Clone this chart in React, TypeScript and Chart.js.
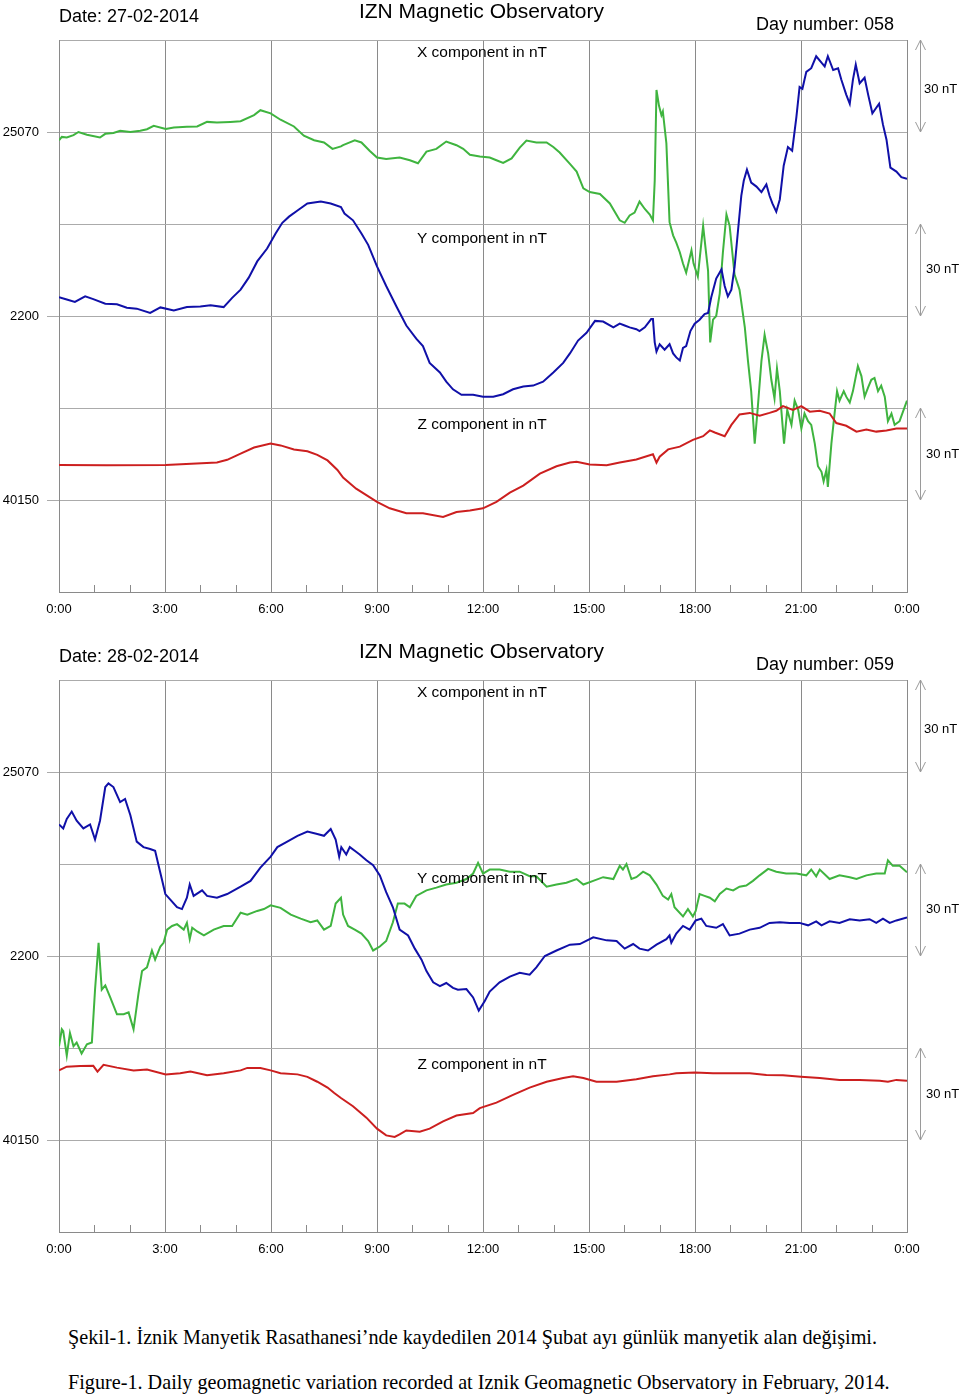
import React, { useEffect, useRef } from 'react';
import { Chart, registerables } from 'chart.js';

Chart.register(...registerables);

// ---------- axis anchors / tick labels ----------
const HOUR_TICKS = [0, 3, 6, 9, 12, 15, 18, 21, 24];
const X_BASE = 25070;
const Y_BASE = 2200;
const Z_BASE = 40150;
const BAND_NT = 30;
// grid steps (of 30 nT) below each labelled baseline; 6 steps tall in total
const X_STEPS_BELOW = 5;
const Y_STEPS_BELOW = 3;
const Z_STEPS_BELOW = 1;

// ---------- Day 058 (27-02-2014) ----------
const d058XTime = [0, 0.08, 0.22, 0.41, 0.55, 0.79, 1.16, 1.31, 1.54, 1.73, 2.02, 2.3, 2.49, 2.68, 3.02, 3.25, 3.62, 3.91, 4.19, 4.47, 4.85, 5.14, 5.52, 5.7, 5.99, 6.27, 6.65, 6.93, 7.22, 7.5, 7.74, 7.98,
  8.04, 8.23, 8.37, 8.56, 8.79, 9.0, 9.26, 9.64, 9.93, 10.16, 10.4, 10.68, 10.96, 11.25, 11.44, 11.63, 11.91, 12.19, 12.38, 12.57, 12.81, 13.04, 13.23, 13.51, 13.8, 13.99, 14.17, 14.46, 14.65, 14.84, 15.02, 15.31, 15.59,
  15.87, 16.01, 16.15, 16.29, 16.43, 16.58, 16.72, 16.81, 16.86, 16.91, 16.98, 17.05, 17.09, 17.19, 17.28, 17.38, 17.47, 17.57, 17.66, 17.75, 17.9, 17.96, 18.08, 18.23, 18.3, 18.37, 18.43, 18.51, 18.6, 18.7, 18.79, 18.89, 18.98,
  19.12, 19.26, 19.41, 19.5, 19.59, 19.69, 19.78, 19.88, 19.97, 20.07, 20.16, 20.25, 20.32, 20.4, 20.52, 20.61, 20.73, 20.82, 20.92, 21.01, 21.1, 21.2, 21.29, 21.39, 21.48, 21.58, 21.64, 21.72, 21.76, 21.86, 21.95,
  22.02, 22.09, 22.21, 22.28, 22.38, 22.47, 22.61, 22.71, 22.8, 22.9, 22.99, 23.08, 23.18, 23.27, 23.37, 23.46, 23.56, 23.65, 23.79, 24.0];
const d058XnT = [25067.3, 25068.4, 25068.2, 25069.0, 25070.0, 25069.1, 25068.2, 25069.4, 25069.7, 25070.4, 25070.0, 25070.4, 25070.9, 25072.0, 25071.0, 25071.5, 25071.7, 25071.8, 25073.3, 25073.1, 25073.3, 25073.5, 25075.5, 25077.1, 25076.1, 25074.0, 25071.8, 25068.8, 25067.3, 25066.6, 25064.5, 25065.3,
  25065.7, 25066.6, 25067.3, 25066.6, 25063.9, 25061.7, 25061.2, 25061.7, 25060.8, 25059.8, 25063.6, 25064.5, 25066.9, 25065.7, 25064.5, 25062.6, 25062.0, 25061.7, 25060.8, 25059.9, 25061.4, 25064.9, 25067.2, 25066.6, 25066.6, 25065.1, 25063.3, 25059.6, 25057.1, 25051.6, 25050.4, 25049.8, 25046.7,
  25041.2, 25040.4, 25042.8, 25043.7, 25047.3, 25044.9, 25043.1, 25041.2, 25054.1, 25083.7, 25078.6, 25075.5, 25076.7, 25066.3, 25040.6, 25036.3, 25033.9, 25030.8, 25027.1, 25024.1, 25031.4, 25027.1, 25022.9, 25039.4, 25032.0, 25024.7, 25001.4, 25008.8, 25010.0, 25017.3, 25030.8, 25043.1, 25039.4,
  25023.5, 25018.6, 25006.3, 24995.3, 24985.5, 24968.4, 24980.6, 24995.3, 25003.9, 24997.8, 24989.2, 24983.1, 24992.9, 24985.5, 24968.4, 24979.4, 24974.5, 24982.4, 24979.4, 24973.3, 24978.2, 24975.7, 24974.5, 24968.4, 24961.0, 24959.2, 24956.1, 24959.8, 24954.3, 24968.4, 24978.2,
  24985.5, 24982.4, 24985.5, 24983.7, 24981.8, 24985.5, 24993.7, 24990.4, 24983.7, 24986.7, 24989.2, 24989.8, 24985.5, 24987.3, 24983.7, 24975.7, 24978.2, 24974.5, 24975.7, 24982.4];

const d058YTime = [0, 0.22, 0.45, 0.74, 0.97, 1.31, 1.64, 1.92, 2.2, 2.58, 2.87, 3.25, 3.62, 4.0, 4.29, 4.66, 4.9, 5.14, 5.37, 5.61, 5.89, 6.13, 6.32, 6.51, 6.75, 7.03, 7.41, 7.69, 7.98,
  8.08, 8.32, 8.56, 8.75, 9.0, 9.26, 9.55, 9.83, 10.11, 10.3, 10.49, 10.78, 10.96, 11.15, 11.39, 11.72, 12.0, 12.29, 12.57, 12.85, 13.14, 13.42, 13.7, 13.99, 14.27, 14.46, 14.69, 14.93, 15.17, 15.4, 15.69,
  15.87, 16.01, 16.15, 16.34, 16.43, 16.58, 16.76, 16.81, 16.86, 16.91, 17.0, 17.14, 17.28, 17.38, 17.47, 17.57, 17.66, 17.75, 17.87, 17.99, 18.13, 18.27, 18.37, 18.46, 18.6, 18.75, 18.84, 18.93, 19.03, 19.12, 19.22, 19.31, 19.38, 19.47,
  19.59, 19.74, 19.88, 20.02, 20.11, 20.19, 20.3, 20.4, 20.51, 20.63, 20.75, 20.87, 20.96, 21.04, 21.15, 21.29, 21.43, 21.58, 21.67, 21.76, 21.91, 22.05, 22.14, 22.28, 22.38, 22.47, 22.55, 22.66, 22.8, 22.9, 23.02, 23.21, 23.32, 23.42, 23.53, 23.7, 23.84, 24.0];
const d058YnT = [2206.1, 2205.4, 2204.6, 2206.4, 2205.5, 2204.0, 2203.8, 2202.7, 2202.4, 2201.0, 2202.8, 2201.8, 2202.9, 2203.1, 2203.5, 2202.9, 2205.9, 2208.6, 2212.5, 2217.8, 2222.0, 2226.9, 2230.4, 2232.4, 2234.4, 2236.7, 2237.3, 2236.7, 2235.5,
  2233.4, 2231.2, 2226.9, 2223.2, 2216.2, 2209.8, 2203.1, 2196.9, 2192.6, 2190.2, 2184.7, 2181.6, 2178.6, 2176.1, 2174.3, 2174.3, 2173.7, 2173.7, 2174.5, 2176.1, 2177.0, 2177.3, 2178.6, 2181.6, 2184.7, 2187.8, 2192.0, 2194.5, 2198.4, 2198.2, 2196.3,
  2197.5, 2196.9, 2196.3, 2195.7, 2195.1, 2196.3, 2199.0, 2199.0, 2191.4, 2188.4, 2190.8, 2189.0, 2190.8, 2187.8, 2186.5, 2185.5, 2189.6, 2190.2, 2195.1, 2197.5, 2198.8, 2200.6, 2201.0, 2206.1, 2212.2, 2215.2, 2209.8, 2206.4, 2208.6, 2215.9, 2228.2, 2239.2, 2244.1, 2247.7,
  2243.5, 2242.2, 2240.4, 2242.9, 2239.2, 2236.7, 2234.0, 2238.0, 2249.0, 2255.1, 2253.9, 2264.9, 2274.7, 2274.1, 2279.6, 2280.8, 2284.7, 2282.6, 2281.4, 2284.7, 2280.2, 2280.8, 2277.1, 2272.2, 2269.2, 2277.1, 2282.0, 2275.9, 2277.7, 2272.2, 2266.1, 2269.2, 2262.4, 2257.5, 2248.4, 2247.1, 2245.3, 2244.7];

const d058ZTime = [0, 1.35, 3.02, 4.47, 4.76, 5.14, 5.52, 5.99, 6.27, 6.65, 7.03, 7.31, 7.6, 7.88,
  8.04, 8.41, 9.0, 9.36, 9.83, 10.3, 10.87, 11.25, 11.63, 12.0, 12.38, 12.76, 13.14, 13.61, 14.08, 14.46, 14.65, 15.02, 15.5,
  15.87, 16.34, 16.81, 16.91, 17.0, 17.24, 17.57, 17.94, 18.23, 18.42, 18.56, 18.84, 19.03, 19.26, 19.55, 19.83, 20.11, 20.3, 20.49, 20.77, 21.01, 21.25, 21.53, 21.81, 22.0, 22.28, 22.57, 22.85, 23.13, 23.42, 23.7, 24.0];
const d058ZnT = [40161.4, 40161.3, 40161.4, 40162.2, 40163.1, 40165.1, 40167.1, 40168.4, 40167.8, 40166.5, 40165.9, 40164.7, 40162.9, 40159.8,
  40157.3, 40153.7, 40149.4, 40147.3, 40145.7, 40145.7, 40144.5, 40146.1, 40146.6, 40147.3, 40149.4, 40152.4, 40154.7, 40158.6, 40161.0, 40162.2, 40162.5, 40161.6, 40161.3,
  40162.2, 40163.2, 40164.9, 40162.2, 40164.1, 40166.5, 40167.4, 40169.6, 40170.8, 40172.7, 40172.0, 40170.8, 40174.5, 40177.9, 40178.4, 40177.5, 40178.4, 40179.1, 40180.6, 40179.4, 40180.6, 40178.8, 40179.1, 40178.2, 40175.1, 40174.2, 40172.3, 40173.0, 40172.3, 40172.7, 40173.3, 40173.3];

// ---------- Day 059 (28-02-2014) ----------
const d059XTime = [0, 0.08, 0.12, 0.22, 0.31, 0.41, 0.5, 0.64, 0.79, 0.93, 1.02, 1.12, 1.21, 1.31, 1.45, 1.64, 1.83, 1.97, 2.11, 2.25, 2.35, 2.49, 2.63, 2.72, 2.87, 2.96, 3.06, 3.2, 3.34, 3.53, 3.62, 3.7, 3.77, 3.91,
  4.1, 4.38, 4.66, 4.9, 5.14, 5.33, 5.61, 5.8, 5.99, 6.27, 6.56, 6.84, 7.12, 7.31, 7.5, 7.69, 7.83, 7.98,
  8.04, 8.18, 8.37, 8.56, 8.75, 8.89, 9.08, 9.26, 9.45, 9.59, 9.78, 9.93, 10.11, 10.4, 10.68, 10.96, 11.25, 11.53, 11.72, 11.86, 12.0, 12.19, 12.47, 12.76, 13.04, 13.32, 13.51, 13.8, 14.08, 14.36, 14.65, 14.84, 15.12, 15.4, 15.69,
  15.87, 15.96, 16.06, 16.2, 16.34, 16.53, 16.72, 16.91, 17.09, 17.24, 17.33, 17.42, 17.66, 17.8, 17.94, 18.02, 18.13, 18.27, 18.42, 18.56, 18.7, 18.89, 19.08, 19.26, 19.45, 19.64, 19.83, 20.07, 20.3, 20.58, 20.87,
  21.15, 21.29, 21.43, 21.53, 21.81, 22.09, 22.38, 22.57, 22.85, 23.13, 23.37, 23.46, 23.6, 23.79, 24.0];
const d059XnT = [24980.6, 24986.1, 24985.5, 24977.5, 24984.9, 24980.6, 24981.8, 24978.2, 24981.2, 24981.8, 24999.0, 25014.3, 24999.0, 25000.4, 24996.5, 24991.0, 24991.0, 24991.6, 24986.1, 24997.8, 25005.1, 25006.3, 25011.8, 25008.8, 25013.1, 25014.3, 25018.6, 25019.8, 25020.4, 25018.6, 25020.8, 25015.5, 25019.2, 25018.0,
  25016.7, 25018.6, 25019.8, 25019.8, 25024.1, 25023.5, 25024.7, 25025.3, 25026.5, 25025.7, 25023.5, 25022.2, 25021.0, 25021.6, 25018.6, 25019.8, 25027.1, 25029.0,
  25023.5, 25019.8, 25018.6, 25017.3, 25014.9, 25011.8, 25013.1, 25014.9, 25021.0, 25027.1, 25027.1, 25025.9, 25029.6, 25031.4, 25032.3, 25033.3, 25033.9, 25035.1, 25036.9, 25040.4, 25036.9, 25038.2, 25038.2, 25037.5, 25037.5, 25036.0, 25036.0, 25032.6, 25033.3, 25033.9, 25035.1, 25033.3, 25034.5, 25035.7, 25035.1,
  25039.4, 25038.2, 25040.0, 25035.1, 25035.7, 25037.5, 25036.3, 25033.3, 25029.6, 25028.4, 25030.2, 25025.9, 25022.9, 25025.3, 25022.9, 25024.7, 25030.2, 25029.6, 25029.0, 25027.8, 25030.2, 25032.0, 25031.4, 25032.6, 25033.0, 25034.5, 25036.3, 25038.4, 25037.5, 25036.9, 25036.9,
  25036.3, 25038.2, 25036.0, 25038.2, 25035.1, 25036.3, 25035.7, 25035.1, 25036.3, 25036.9, 25036.9, 25041.2, 25039.4, 25039.4, 25037.3];

const d059YTime = [0, 0.12, 0.22, 0.36, 0.5, 0.69, 0.88, 1.02, 1.16, 1.31, 1.4, 1.54, 1.73, 1.87, 2.02, 2.2, 2.39, 2.58, 2.72, 2.82, 2.91, 3.01, 3.15, 3.34, 3.48, 3.62, 3.7, 3.81, 4.05, 4.19, 4.47, 4.76,
  5.14, 5.42, 5.7, 5.99, 6.18, 6.46, 6.75, 7.03, 7.31, 7.5, 7.69, 7.83, 7.93,
  7.99, 8.13, 8.23, 8.37, 8.51, 8.7, 8.89, 9.08, 9.26, 9.45, 9.64, 9.88, 10.07, 10.26, 10.4, 10.59, 10.78, 10.96, 11.15, 11.29, 11.53, 11.72, 11.88, 12.05, 12.19, 12.47, 12.76, 13.04, 13.32, 13.51, 13.75, 14.08, 14.46, 14.74, 15.12, 15.5, 15.78,
  16.01, 16.25, 16.43, 16.67, 16.91, 17.19, 17.28, 17.33, 17.47, 17.66, 17.85, 18.02, 18.18, 18.32, 18.6, 18.79, 18.98, 19.26, 19.55, 19.83, 20.11, 20.4, 20.68, 20.96, 21.2, 21.43, 21.58, 21.81, 22.09, 22.38, 22.66, 22.94, 23.13, 23.32, 23.51, 23.7, 24.0];
const d059YnT = [2242.9, 2241.6, 2244.7, 2247.1, 2244.1, 2241.6, 2242.9, 2238.0, 2244.1, 2255.1, 2256.3, 2255.1, 2250.2, 2251.2, 2245.9, 2237.3, 2235.5, 2234.9, 2234.3, 2229.4, 2225.1, 2220.2, 2218.4, 2215.9, 2215.3, 2219.0, 2223.3, 2219.6, 2221.4, 2219.6, 2219.0, 2220.2,
  2222.6, 2224.5, 2228.8, 2232.4, 2235.5, 2237.3, 2239.2, 2240.6, 2239.8, 2239.2, 2241.4, 2238.0, 2232.4,
  2235.5, 2233.1, 2235.5, 2234.3, 2233.1, 2231.2, 2229.6, 2226.3, 2220.8, 2215.9, 2208.6, 2206.7, 2202.4, 2198.8, 2195.1, 2191.4, 2190.2, 2191.2, 2189.6, 2189.0, 2189.2, 2186.5, 2182.2, 2185.3, 2188.4, 2191.4, 2193.3, 2194.5, 2193.9, 2196.3, 2200.0, 2201.8, 2203.7, 2203.9, 2206.1, 2205.1, 2204.9,
  2202.4, 2203.9, 2202.4, 2201.8, 2203.7, 2205.5, 2206.7, 2204.3, 2207.3, 2209.8, 2208.6, 2211.6, 2212.2, 2209.8, 2209.2, 2210.4, 2206.7, 2207.3, 2208.6, 2209.2, 2210.8, 2211.0, 2210.8, 2210.8, 2210.0, 2211.3, 2210.0, 2211.3, 2210.8, 2212.0, 2211.6, 2212.0, 2210.8, 2212.2, 2210.8, 2211.6, 2212.6];

const d059ZTime = [0, 0.22, 0.6, 0.97, 1.09, 1.26, 1.64, 2.11, 2.49, 3.02, 3.43, 3.72, 4.19, 4.66, 5.14, 5.33, 5.7, 5.99, 6.27, 6.75, 7.03, 7.31, 7.6, 7.79, 7.98,
  8.32, 8.7, 9.0, 9.26, 9.5, 9.64, 9.83, 10.21, 10.49, 10.87, 11.25, 11.72, 11.91, 12.38, 12.85, 13.32, 13.8, 14.27, 14.55, 14.84, 15.21, 15.78,
  16.34, 16.81, 17.28, 17.47, 18.0, 18.51, 19.08, 19.55, 20.02, 20.49, 21.0, 21.53, 22.09, 22.66, 23.23, 23.46, 23.7, 24.0];
const d059ZnT = [40172.7, 40173.9, 40174.1, 40174.2, 40172.3, 40174.5, 40173.6, 40172.7, 40173.0, 40171.4, 40171.8, 40172.3, 40171.1, 40171.8, 40172.7, 40173.5, 40173.5, 40172.7, 40171.8, 40171.4, 40170.6, 40169.0, 40167.1, 40165.3, 40163.7,
  40161.0, 40157.3, 40153.7, 40151.5, 40151.0, 40151.8, 40153.1, 40152.7, 40153.7, 40156.1, 40158.0, 40158.8, 40160.4, 40162.2, 40164.7, 40167.1, 40169.0, 40170.2, 40170.8, 40170.2, 40169.0, 40169.0,
  40169.8, 40170.8, 40171.4, 40171.8, 40172.0, 40171.8, 40171.8, 40171.8, 40171.2, 40171.1, 40170.6, 40170.2, 40169.6, 40169.6, 40169.3, 40169.0, 40169.6, 40169.3];

// ---------- styling ----------
const SANS = '"Liberation Sans", Arial, Helvetica, sans-serif';
const COLOR_X = '#3fb43f';
const COLOR_Y = '#1010a8';
const COLOR_Z = '#cc1f1f';
const GRID_H = '#ababab';
const GRID_V = '#8a8a8a';

const pts = (t: number[], v: number[]) => t.map((h, i) => ({ x: h, y: v[i] }));

const bands = [
  { id: 'yX', base: X_BASE, label: 'X component in nT', titleDy: 12.5, unitDy: 3, unitDx: 17 },
  { id: 'yY', base: Y_BASE, label: 'Y component in nT', titleDy: 14.5, unitDy: -0.5, unitDx: 19 },
  { id: 'yZ', base: Z_BASE, label: 'Z component in nT', titleDy: 16.5, unitDy: 0.5, unitDx: 19 },
];

const decorPlugin = {
  id: 'decor',
  afterLayout(chart: any) {
    // hidden companion axes share the visible axis' box, so their labels sit at the same place
    const a = chart.chartArea;
    for (const id of ['yY', 'yZ']) {
      const s = chart.scales[id];
      if (s) {
        s.left = 0;
        s.right = a.left;
      }
    }
  },
  afterDraw(chart: any, _args: any, opts: any) {
    const { ctx, chartArea: a, scales } = chart;
    const sx = scales.x;
    ctx.save();
    // hourly minor ticks along the bottom
    ctx.strokeStyle = GRID_V;
    ctx.lineWidth = 1;
    for (let h = 1; h < 24; h++) {
      if (h % 3 === 0) continue;
      const px = Math.round(sx.getPixelForValue(h)) + 0.5;
      ctx.beginPath();
      ctx.moveTo(px, a.bottom);
      ctx.lineTo(px, a.bottom - 7);
      ctx.stroke();
    }
    // headers
    ctx.fillStyle = '#000';
    ctx.textBaseline = 'middle';
    ctx.font = '18px ' + SANS;
    ctx.textAlign = 'left';
    ctx.fillText(opts.date, a.left, 17);
    ctx.textAlign = 'right';
    ctx.fillText(opts.day, 894, 25);
    ctx.font = '21px ' + SANS;
    ctx.textAlign = 'center';
    ctx.fillText('IZN Magnetic Observatory', (a.left + a.right) / 2 - 1.5, 12);

    const cx = (a.left + a.right) / 2 - 1;
    for (const b of bands) {
      const s = scales[b.id];
      const yt = s.getPixelForValue(b.base + BAND_NT);
      const yb = s.getPixelForValue(b.base);
      ctx.fillStyle = '#000';
      ctx.font = '15.5px ' + SANS;
      ctx.textAlign = 'center';
      ctx.fillText(b.label, cx, yt + b.titleDy);
      // 30 nT arrow
      const ax = a.right + 13.5;
      ctx.strokeStyle = '#9a9a9a';
      ctx.lineWidth = 1;
      ctx.beginPath();
      ctx.moveTo(ax, yt);
      ctx.lineTo(ax, yb);
      ctx.moveTo(ax - 5, yt + 10);
      ctx.lineTo(ax, yt);
      ctx.lineTo(ax + 5, yt + 10);
      ctx.moveTo(ax - 5, yb - 10);
      ctx.lineTo(ax, yb);
      ctx.lineTo(ax + 5, yb - 10);
      ctx.stroke();
      ctx.font = '13px ' + SANS;
      ctx.textAlign = 'left';
      ctx.fillText(BAND_NT + ' nT', a.right + b.unitDx, (yt + yb) / 2 + b.unitDy);
    }
    ctx.restore();
  },
};

function yAxis(base: number, stepsBelow: number, main: boolean) {
  return {
    type: 'linear',
    position: 'left',
    weight: main ? 1 : 0,
    min: base - stepsBelow * BAND_NT,
    max: base + (6 - stepsBelow) * BAND_NT,
    afterFit: (scale: any) => {
      scale.width = main ? 59 : 0;
    },
    ticks: {
      stepSize: BAND_NT,
      autoSkip: false,
      padding: 8,
      color: '#000',
      font: { family: SANS, size: 13 },
      callback: (v: any) => (Math.abs(Number(v) - base) < 0.01 ? String(base) : ''),
    },
    grid: {
      display: true,
      drawOnChartArea: main,
      color: main ? GRID_H : 'transparent',
      lineWidth: 1,
      drawTicks: true,
      tickLength: 12,
      tickColor: (c: any) => (c.tick && Math.abs(c.tick.value - base) < 0.01 ? GRID_H : 'transparent'),
    },
    border: { display: main, color: GRID_V },
  };
}

type PanelProps = {
  top: number;
  date: string;
  day: string;
  xT: number[]; xV: number[];
  yT: number[]; yV: number[];
  zT: number[]; zV: number[];
};

function Panel(p: PanelProps) {
  const ref = useRef<HTMLCanvasElement | null>(null);
  useEffect(() => {
    if (!ref.current) return;
    const chart = new Chart(ref.current, {
      type: 'line',
      data: {
        datasets: [
          { label: 'Z', data: pts(p.zT, p.zV), yAxisID: 'yZ', borderColor: COLOR_Z, borderWidth: 2, pointRadius: 0, fill: false, tension: 0 },
          { label: 'Y', data: pts(p.yT, p.yV), yAxisID: 'yY', borderColor: COLOR_Y, borderWidth: 2, pointRadius: 0, fill: false, tension: 0 },
          { label: 'X', data: pts(p.xT, p.xV), yAxisID: 'yX', borderColor: COLOR_X, borderWidth: 2, pointRadius: 0, fill: false, tension: 0 },
        ],
      },
      options: {
        responsive: false,
        maintainAspectRatio: false,
        animation: false,
        devicePixelRatio: 1,
        layout: { padding: { left: 0, top: 40, right: 53, bottom: 0 } },
        plugins: {
          legend: { display: false },
          tooltip: { enabled: false },
          title: { display: false },
          decor: { date: p.date, day: p.day },
        } as any,
        scales: {
          x: {
            type: 'linear',
            min: 0,
            max: 24,
            afterFit: (scale: any) => {
              scale.height = 38;
            },
            afterBuildTicks: (scale: any) => {
              scale.ticks = HOUR_TICKS.map((h) => ({ value: h }));
            },
            ticks: {
              autoSkip: false,
              maxRotation: 0,
              padding: 10,
              color: '#000',
              font: { family: SANS, size: 13 },
              callback: (v: any) => (Number(v) % 24) + ':00',
            },
            grid: { color: GRID_V, lineWidth: 1, drawTicks: false },
            border: { display: true, color: GRID_V },
          },
          yX: yAxis(X_BASE, X_STEPS_BELOW, true),
          yY: yAxis(Y_BASE, Y_STEPS_BELOW, false),
          yZ: yAxis(Z_BASE, Z_STEPS_BELOW, false),
        } as any,
      },
      plugins: [decorPlugin],
    } as any);
    return () => chart.destroy();
  }, []);
  return (
    <div style={{ position: 'absolute', left: 0, top: p.top, width: 960, height: 630 }}>
      <canvas ref={ref} width={960} height={630} style={{ display: 'block', width: 960, height: 630 }} />
    </div>
  );
}

const captionStyle: React.CSSProperties = {
  position: 'absolute',
  left: 68,
  fontFamily: '"Liberation Serif", "Times New Roman", serif',
  fontSize: 20.2,
  lineHeight: '20px',
  whiteSpace: 'nowrap',
  color: '#000',
};

export default function App() {
  return (
    <div style={{ position: 'absolute', left: 0, top: 0, width: 960, height: 1396, background: '#fff', overflow: 'hidden' }}>
      <Panel top={0} date="Date: 27-02-2014" day="Day number: 058"
        xT={d058XTime} xV={d058XnT} yT={d058YTime} yV={d058YnT} zT={d058ZTime} zV={d058ZnT} />
      <Panel top={640} date="Date: 28-02-2014" day="Day number: 059"
        xT={d059XTime} xV={d059XnT} yT={d059YTime} yV={d059YnT} zT={d059ZTime} zV={d059ZnT} />
      <div style={{ ...captionStyle, top: 1327 }}>
        Şekil-1. İznik Manyetik Rasathanesi’nde kaydedilen 2014 Şubat ayı günlük manyetik alan değişimi.
      </div>
      <div style={{ ...captionStyle, top: 1372 }}>
        Figure-1. Daily geomagnetic variation recorded at Iznik Geomagnetic Observatory in February, 2014.
      </div>
    </div>
  );
}
